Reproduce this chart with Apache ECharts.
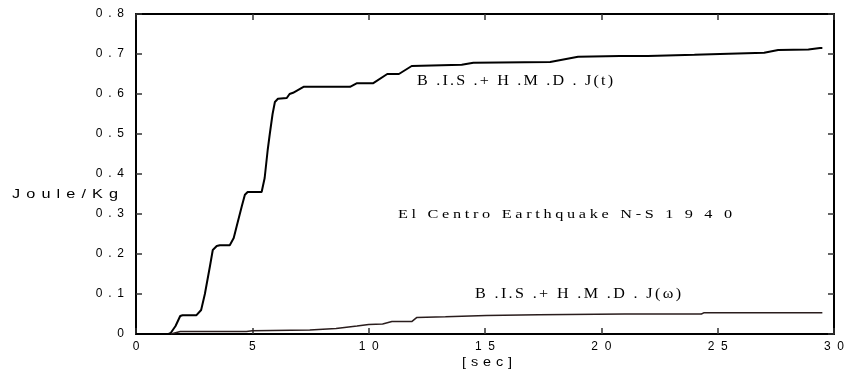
<!DOCTYPE html>
<html>
<head>
<meta charset="utf-8">
<script src="https://cdn.jsdelivr.net/npm/echarts@6/dist/echarts.min.js"></script>
<style>
  html, body { margin: 0; padding: 0; background: #fff; }
  #chart { width: 847px; height: 379px; }
</style>
</head>
<body>
<div id="chart"></div>
<script>
// Cumulative input energy, B.I.S. + H.M.D., El Centro N-S 1940
const jtTime  = [0, 1.4, 1.5, 1.7, 1.9, 2.0, 2.6, 2.8, 2.96, 3.18, 3.3, 3.47, 3.6, 4.03, 4.2, 4.33, 4.55, 4.68, 4.8, 5.4, 5.53, 5.66, 5.75, 5.87, 5.97, 6.1, 6.48, 6.6, 6.75, 7.2, 9.2, 9.5, 10.2, 10.8, 11.3, 11.85, 14.0, 14.5, 17.8, 19.0, 20.8, 22.0, 24.0, 25.1, 27.0, 27.6, 28.9, 29.4, 29.5];
const jtValue = [0, 0, 0.003, 0.02, 0.045, 0.047, 0.047, 0.06, 0.1, 0.17, 0.21, 0.22, 0.222, 0.222, 0.24, 0.27, 0.32, 0.348, 0.355, 0.355, 0.39, 0.46, 0.5, 0.55, 0.58, 0.588, 0.59, 0.6, 0.603, 0.618, 0.618, 0.627, 0.627, 0.65, 0.65, 0.67, 0.673, 0.678, 0.68, 0.693, 0.695, 0.695, 0.698, 0.70, 0.703, 0.71, 0.711, 0.715, 0.715];

const jwTime  = [1.5, 1.9, 4.75, 5.0, 7.47, 8.6, 9.5, 10.0, 10.6, 11.0, 11.85, 12.06, 13.3, 15.06, 17.3, 21.0, 24.3, 24.4, 29.5];
const jwValue = [0, 0.006, 0.006, 0.008, 0.01, 0.014, 0.02, 0.024, 0.025, 0.031, 0.031, 0.041, 0.043, 0.046, 0.048, 0.05, 0.05, 0.053, 0.053];

const xTicks = { min: 0, max: 30, interval: 5 };
const yTicks = { min: 0, max: 0.8, interval: 0.1 };

const labelJt = 'B .I.S .+ H .M .D . J(t)';
const labelJw = 'B .I.S .+ H .M .D . J(ω)';
const titleText = 'El Centro Earthquake N-S 1 9 4 0';
const yName = 'Joule/Kg';
const xName = '[sec]';

const sans = 'Liberation Sans, Arial, sans-serif';
const serif = 'Liberation Serif, Times New Roman, serif';

// tick labels are printed with spaced-out digits, e.g. "0 . 8", "1  0"
const fmtY = v => String(Math.round(v * 10) / 10).split('').join(' \u2009');
const fmtX = v => String(v).split('').join('  ');

const pairs = (xs, ys) => xs.map((x, i) => [x, ys[i]]);

// Letter-spaced, slightly widened text: characters laid out one by one so the string spans `width` px
const measureCtx = document.createElement('canvas').getContext('2d');
function trackedText(str, x, y, size, family, width, stretch) {
  const font = size + 'px ' + family;
  measureCtx.font = font;
  const chars = Array.from(str);
  const widths = chars.map(c => measureCtx.measureText(c).width * stretch);
  const natural = widths.reduce((a, b) => a + b, 0);
  const gap = chars.length > 1 ? (width - natural) / (chars.length - 1) : 0;
  const children = [];
  let cx = 0;
  chars.forEach((c, i) => {
    if (c !== ' ') {
      children.push({ type: 'text', x: cx, y: 0, scaleX: stretch, silent: true,
        style: { text: c, font, fill: '#000', verticalAlign: 'top', align: 'left' } });
    }
    cx += widths[i] + gap;
  });
  return { type: 'group', x, y, children };
}

const chart = echarts.init(document.getElementById('chart'), null, { renderer: 'canvas' });

const tickStyle = { show: true, inside: true, length: 6, lineStyle: { color: '#333', width: 1.5 } };
const axisLineStyle = { show: true, onZero: false, lineStyle: { color: '#000', width: 2 } };

chart.setOption({
  animation: false,
  backgroundColor: '#fff',
  grid: { left: 136, right: 12, top: 14, bottom: 45, containLabel: false },
  xAxis: [
    {
      type: 'value', position: 'bottom', ...xTicks,
      axisLine: axisLineStyle, axisTick: tickStyle, splitLine: { show: false },
      axisLabel: { formatter: fmtX, color: '#000', fontFamily: sans, fontSize: 12, margin: 7 }
    },
    {
      type: 'value', position: 'top', ...xTicks,
      axisLine: axisLineStyle, axisTick: tickStyle, splitLine: { show: false },
      axisLabel: { show: false }
    }
  ],
  yAxis: [
    {
      type: 'value', position: 'left', ...yTicks,
      axisLine: axisLineStyle, axisTick: tickStyle, splitLine: { show: false },
      axisLabel: { formatter: fmtY, color: '#000', fontFamily: sans, fontSize: 12, margin: 12 }
    },
    {
      type: 'value', position: 'right', ...yTicks,
      axisLine: axisLineStyle, axisTick: tickStyle, splitLine: { show: false },
      axisLabel: { show: false }
    }
  ],
  series: [
    {
      name: 'J(t)', type: 'line', xAxisIndex: 0, yAxisIndex: 0,
      data: pairs(jtTime, jtValue), showSymbol: false, symbol: 'none',
      lineStyle: { color: '#000', width: 2 }
    },
    {
      name: 'J(ω)', type: 'line', xAxisIndex: 0, yAxisIndex: 0,
      data: pairs(jwTime, jwValue), showSymbol: false, symbol: 'none',
      lineStyle: { color: '#2a1d1d', width: 1.5 }
    }
  ],
  graphic: [
    trackedText(yName, 12, 188, 13, sans, 106, 1.25),
    trackedText(xName, 462, 357, 12, sans, 50, 1.2),
    trackedText(labelJt, 417, 74, 14, serif, 196, 1.15),
    trackedText(labelJw, 475, 287, 14, serif, 206, 1.15),
    trackedText(titleText, 398, 208, 13, serif, 334, 1.25)
  ]
});
</script>
</body>
</html>
